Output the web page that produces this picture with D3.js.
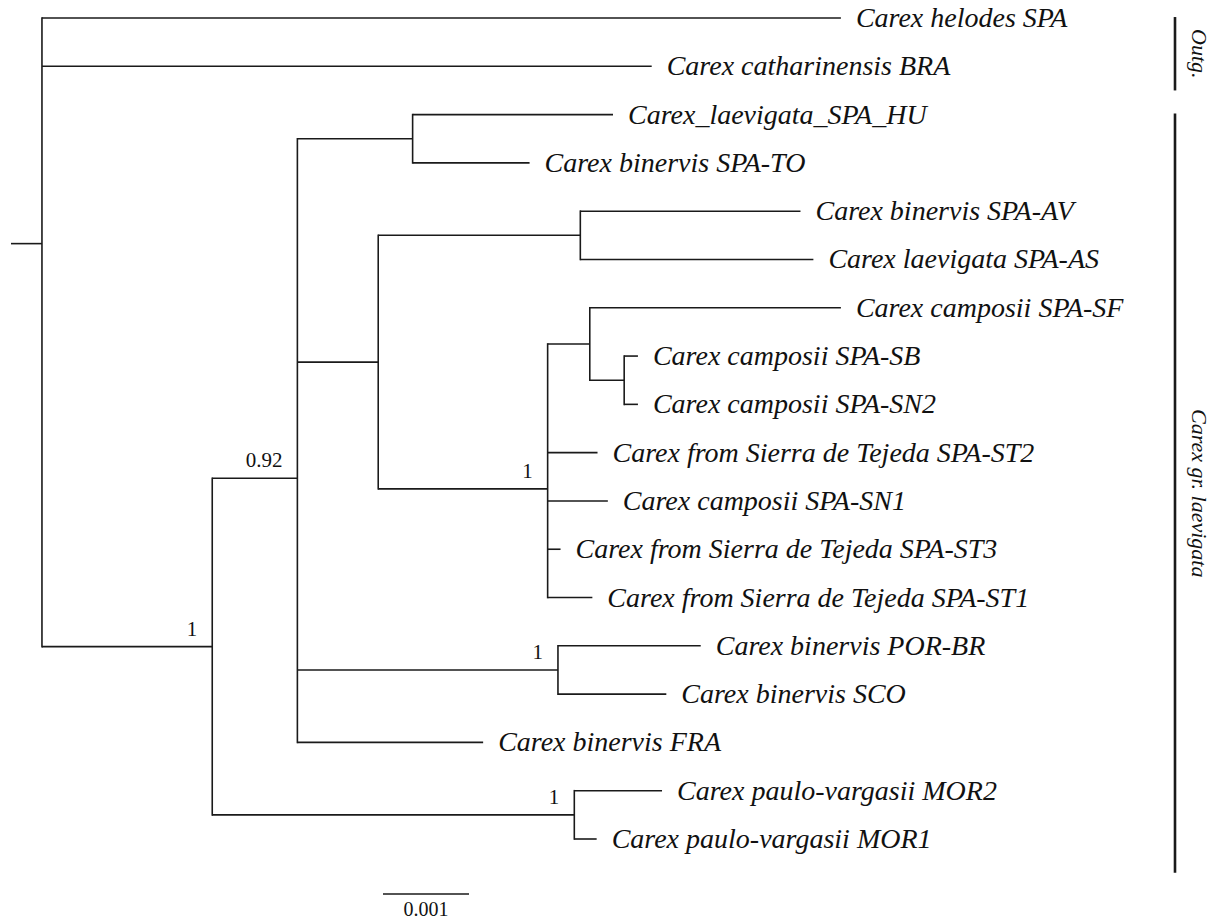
<!DOCTYPE html>
<html>
<head>
<meta charset="utf-8">
<script src="https://cdn.jsdelivr.net/npm/d3@7"></script>
<style>
  html, body { margin: 0; padding: 0; background: #fff; }
  svg { display: block; }
  text { font-family: "Liberation Serif", "Times New Roman", serif; fill: #111; }
</style>
</head>
<body>
<svg id="chart" width="1215" height="924"></svg>
<script>
// ---- Tree data (branch lengths in substitutions/site) ----
const nodeIds = ["root","helodes","catharinensis","ingroup","n092","nHT","HU","TO","nBig","nAA","AV","AS","nCamp","nSF","SF","nSB","SB","SN2","ST2","SN1","ST3","ST1","nPOR","POR","SCO","FRA","nMOR","MOR2","MOR1"];
const parentIds = [null,"root","root","root","ingroup","n092","nHT","nHT","n092","nBig","nAA","nAA","nBig","nCamp","nSF","nSF","nSB","nSB","nCamp","nCamp","nCamp","nCamp","n092","nPOR","nPOR","n092","ingroup","nMOR","nMOR"];
const branchLengths = [0.00036,0.00929,0.00709,0.00198,0.00099,0.00134,0.00233,0.00136,0.00094,0.00235,0.00256,0.00271,0.00197,0.00049,0.00292,0.00040,0.00016,0.00016,0.00058,0.00070,0.00015,0.00052,0.00303,0.00166,0.00126,0.00216,0.00421,0.00102,0.00026];
const tipLabels = [null,"Carex helodes SPA","Carex catharinensis BRA",null,null,null,"Carex_laevigata_SPA_HU","Carex binervis SPA-TO",null,null,"Carex binervis SPA-AV","Carex laevigata SPA-AS",null,null,"Carex camposii SPA-SF",null,"Carex camposii SPA-SB","Carex camposii SPA-SN2","Carex from Sierra de Tejeda SPA-ST2","Carex camposii SPA-SN1","Carex from Sierra de Tejeda SPA-ST3","Carex from Sierra de Tejeda SPA-ST1",null,"Carex binervis POR-BR","Carex binervis SCO","Carex binervis FRA",null,"Carex paulo-vargasii MOR2","Carex paulo-vargasii MOR1"];
const supportValues = [null,null,null,"1","0.92",null,null,null,null,null,null,null,"1",null,null,null,null,null,null,null,null,null,"1",null,null,null,"1",null,null];

const cladeNames = ["Outg.", "Carex gr. laevigata"];
const cladeStart = [-0.02, 1.98];
const cladeEnd = [1.5, 17.7];

const scaleBarLength = 0.001;
const scaleBarLabel = "0.001";

// ---- Build hierarchy ----
const rows = nodeIds.map((id, i) => ({id, parent: parentIds[i], len: branchLengths[i], label: tipLabels[i], support: supportValues[i]}));
const root = d3.stratify().id(d => d.id).parentId(d => d.parent)(rows);

root.eachBefore(n => { n.depth_len = (n.parent ? n.parent.depth_len : 0) + n.data.len; });
const leaves = root.leaves();
leaves.forEach((l, i) => l.yi = i);
root.eachAfter(n => { if (n.children) n.yi = d3.mean(n.children, c => c.yi); });

const x = d3.scaleLinear().domain([0, 0.001]).range([11, 97]);
const y = d3.scaleLinear().domain([0, leaves.length - 1]).range([18, 839]);

const svg = d3.select("#chart");
const g = svg.append("g");
const stroke = "#1a1a1a";

// root stub
g.append("line")
  .attr("x1", x(0)).attr("x2", x(root.depth_len))
  .attr("y1", y(root.yi)).attr("y2", y(root.yi))
  .attr("stroke", stroke).attr("stroke-width", 1.6);

// horizontal branches
g.selectAll("line.h").data(root.descendants().filter(d => d.parent)).join("line")
  .attr("class", "h")
  .attr("x1", d => x(d.parent.depth_len)).attr("x2", d => x(d.depth_len))
  .attr("y1", d => y(d.yi)).attr("y2", d => y(d.yi))
  .attr("stroke", stroke).attr("stroke-width", 1.6);

// vertical connectors
g.selectAll("line.v").data(root.descendants().filter(d => d.children)).join("line")
  .attr("class", "v")
  .attr("x1", d => x(d.depth_len)).attr("x2", d => x(d.depth_len))
  .attr("y1", d => y(d.children[0].yi) - 0.8).attr("y2", d => y(d.children[d.children.length - 1].yi) + 0.8)
  .attr("stroke", stroke).attr("stroke-width", 1.6);

// tip labels
g.selectAll("text.tip").data(leaves).join("text")
  .attr("class", "tip")
  .attr("x", d => x(d.depth_len) + 15)
  .attr("y", d => y(d.yi) + 9)
  .attr("font-size", 28)
  .attr("font-style", "italic")
  .text(d => d.data.label);

// support values
g.selectAll("text.sup").data(root.descendants().filter(d => d.data.support)).join("text")
  .attr("class", "sup")
  .attr("x", d => x(d.depth_len) - 15)
  .attr("y", d => y(d.yi) - 11)
  .attr("text-anchor", "end")
  .attr("font-size", 21)
  .text(d => d.data.support);

// scale bar
const sbX = 383, sbY = 894;
const sbW = x(scaleBarLength) - x(0);
g.append("line").attr("x1", sbX).attr("x2", sbX + sbW).attr("y1", sbY).attr("y2", sbY)
  .attr("stroke", stroke).attr("stroke-width", 1.6);
g.append("text").attr("x", sbX + sbW / 2).attr("y", sbY + 22)
  .attr("text-anchor", "middle").attr("font-size", 20).text(scaleBarLabel);

// clade bars
const barX = 1175;
cladeNames.forEach((name, i) => {
  const y0 = y(cladeStart[i]), y1 = y(cladeEnd[i]);
  g.append("line").attr("x1", barX).attr("x2", barX).attr("y1", y0).attr("y2", y1)
    .attr("stroke", stroke).attr("stroke-width", 2.6);
  const cy = (y0 + y1) / 2;
  g.append("text")
    .attr("transform", `translate(${barX + 17},${cy}) rotate(90)`)
    .attr("text-anchor", "middle")
    .attr("font-size", 22)
    .attr("font-style", "italic")
    .text(name);
});
</script>
</body>
</html>
